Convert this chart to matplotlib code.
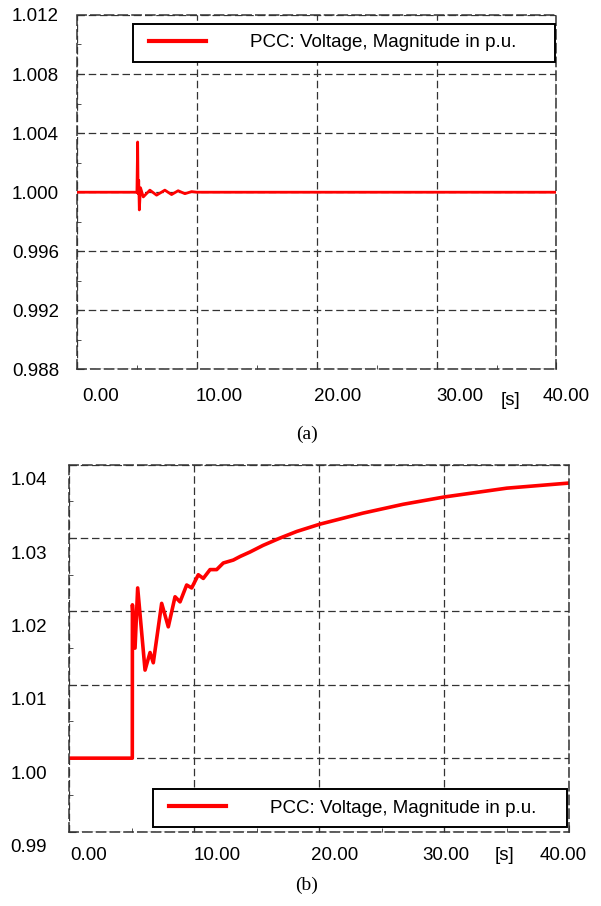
import matplotlib.pyplot as plt
import matplotlib.transforms as mtransforms
from matplotlib.ticker import MultipleLocator
from matplotlib.legend_handler import HandlerLine2D

plt.rcParams['font.family'] = ['Liberation Sans', 'DejaVu Sans']

# (a) PCC voltage magnitude, small disturbance
t_a = [0.0, 5.0, 5.06, 5.1, 5.15, 5.2, 5.3, 5.53, 6.08, 6.64, 7.33, 7.89, 8.44, 9.0, 9.56, 10.0, 40.0]
v_a = [1.0, 1.0, 1.0034, 0.9999, 1.0008, 0.9988, 1.0003, 0.99968, 1.00014, 0.9998,
       1.00014, 0.99984, 1.0001, 0.9999, 1.00004, 1.0, 1.0]

# (b) PCC voltage magnitude, step and slow rise
t_b = [0.0, 5.04, 5.05, 5.26, 5.47, 6.06, 6.46, 6.72, 7.39, 7.92, 8.46, 8.86, 9.39, 9.79,
       10.32, 10.72, 11.26, 11.79, 12.32, 13.12, 13.68, 14.46, 15.5, 16.86, 18.2, 20.06,
       23.5, 26.7, 30.0, 35.0, 40.0]
v_b = [1.0, 1.0, 1.0209, 1.0150, 1.0232, 1.0120, 1.0144, 1.0130, 1.0211, 1.0179, 1.0220, 1.0213,
       1.0236, 1.0232, 1.0250, 1.0245, 1.0257, 1.0257, 1.0266, 1.0270, 1.0275, 1.0281, 1.0290,
       1.0300, 1.0309, 1.0319, 1.0334, 1.0346, 1.0356, 1.0368, 1.0375]

x_ticks = [0, 10, 20, 30, 40]
x_tick_labels = ['0.00', '10.00', '20.00', '30.00', '40.00']
y_ticks_a = [0.988, 0.992, 0.996, 1.000, 1.004, 1.008, 1.012]
y_ticks_b = [0.99, 1.00, 1.01, 1.02, 1.03, 1.04]
series_label = 'PCC: Voltage, Magnitude in p.u.'

fig = plt.figure(figsize=(6.01, 9.06), dpi=100)
ax_a = fig.add_axes([0.1281, 0.5922, 0.7978, 0.3913])
ax_b = fig.add_axes([0.1153, 0.0822, 0.8319, 0.4049])

grid_col = '#333333'
dash = (0, (6, 3))
fs = 13.5


def px_shift(dx, dy):
    return mtransforms.ScaledTranslation(dx / 100, dy / 100, fig.dpi_scale_trans)


def style_axes(ax, yticks, yfmt, ylim, xpad, ypad, xoffs, yoff, legend_box):
    ax.set_xlim(0, 40)
    ax.set_ylim(*ylim)
    ax.set_xticks(x_ticks)
    ax.set_xticklabels(x_tick_labels)
    ax.set_yticks(yticks)
    ax.set_yticklabels([yfmt % v for v in yticks])
    ax.xaxis.set_minor_locator(MultipleLocator(5))
    ax.yaxis.set_minor_locator(MultipleLocator((yticks[1] - yticks[0]) / 2))
    ax.tick_params(which='both', direction='in', color=grid_col, labelsize=fs)
    ax.tick_params(which='major', length=5)
    ax.tick_params(which='minor', length=3)
    ax.tick_params(axis='x', pad=xpad)
    ax.tick_params(axis='y', pad=ypad)
    ax.grid(True, which='major', color=grid_col, linestyle=dash, linewidth=0.9)
    for sp in ax.spines.values():
        sp.set_linestyle(dash)
        sp.set_color(grid_col)
        sp.set_linewidth(1.1)
    for lab, dx in zip(ax.get_xticklabels(), xoffs):
        lab.set_transform(lab.get_transform() + px_shift(dx, 0))
    for lab in ax.get_yticklabels():
        lab.set_transform(lab.get_transform() + px_shift(0, -yoff))
    leg = ax.legend(loc='lower left', bbox_to_anchor=legend_box, mode='expand',
                    borderaxespad=0, fancybox=False, edgecolor='black', framealpha=1,
                    fontsize=fs, handlelength=3.33, handletextpad=2.35, borderpad=0.56,
                    handler_map={ax.get_lines()[0]: HandlerLine2D(xpad=0.33)})
    leg.get_frame().set_linewidth(1.4)
    for h in leg.get_lines():
        h.set_linewidth(3)


ax_a.plot(t_a, v_a, color='#ff0000', linewidth=2.0, label=series_label)
style_axes(ax_a, y_ticks_a, '%.3f', (0.988, 1.012), 13, 13,
           [24, 22, 21, 23, 10], 0, (0.116, 0.868, 0.881, 0.113))

ax_b.plot(t_b, v_b, color='#ff0000', linewidth=2.6, label=series_label)
style_axes(ax_b, y_ticks_b, '%.2f', (0.99, 1.04), 11, 16,
           [19, 23, 15, 2, -6], 14, (0.1668, 0.0123, 0.8292, 0.1055))


# figure-level texts (pixel coordinates from top-left)
def fig_text(x, y, s, **kw):
    fig.text(x / 601, 1 - y / 906, s, **kw)


fig_text(510, 400, '[s]', ha='center', va='center', fontsize=fs)
fig_text(505, 855, '[s]', ha='center', va='center', fontsize=fs)
fig_text(307, 434, '(a)', ha='center', va='center', fontsize=14, family='Liberation Serif')
fig_text(307, 885, '(b)', ha='center', va='center', fontsize=14, family='Liberation Serif')
# bottom edge of a caption cut off at the top of the page
fig_text(229, -10, '(c)', ha='center', va='center', fontsize=14, family='Liberation Serif')

fig.savefig('out.png', dpi=100)
